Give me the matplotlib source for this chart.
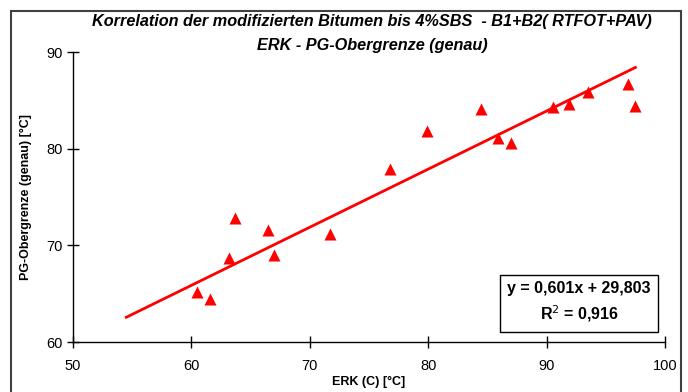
import matplotlib.pyplot as plt
from matplotlib.patches import Rectangle
import numpy as np

plt.rcParams['font.family'] = ['Liberation Sans', 'DejaVu Sans']

# ERK (C) vs. PG-Obergrenze
erk = [60.5, 61.6, 63.2, 63.7, 66.5, 67.0, 71.7, 76.8, 79.9,
       84.5, 85.9, 87.0, 90.5, 91.9, 93.5, 96.9, 97.5]
pg = [65.2, 64.4, 68.7, 72.8, 71.6, 69.0, 71.2, 77.9, 81.8,
      84.1, 81.1, 80.6, 84.3, 84.6, 85.9, 86.7, 84.4]

# trendline as given in the chart
slope = 0.601
intercept = 29.803
r2 = 0.916
trend_x = np.array([54.5, 97.5])

fig = plt.figure(figsize=(6.88, 3.92), dpi=100)
fig.patches.append(Rectangle((11 / 688, -0.1), (681 - 11) / 688, 1.1 - 11 / 392,
                             transform=fig.transFigure, fill=False,
                             edgecolor='#404040', linewidth=1.5))

ax = fig.add_axes([73 / 688, (392 - 342) / 392, (665 - 73) / 688, (342 - 52) / 392])
ax.plot(trend_x, slope * trend_x + intercept, color='#ff0000', linewidth=2)
ax.scatter(erk, pg, marker='^', s=75, color='#ff0000', zorder=3, linewidths=0)

ax.set_xlim(50, 100)
ax.set_ylim(60, 90)
ax.set_xticks([50, 60, 70, 80, 90, 100])
ax.set_yticks([60, 70, 80, 90])
ax.tick_params(direction='inout', length=9, width=1, labelsize=10.5, pad=3)
ax.tick_params(axis='x', pad=8)
for s in ['top', 'right']:
    ax.spines[s].set_visible(False)
for s in ['left', 'bottom']:
    ax.spines[s].set_linewidth(1)

ax.set_xlabel('ERK (C) [°C]', fontsize=9, fontweight='bold', labelpad=2)
ax.set_ylabel('PG-Obergrenze (genau) [°C]', fontsize=9, fontweight='bold', labelpad=10)

fig.text(0.541, 0.946, 'Korrelation der modifizierten Bitumen bis 4%SBS  - B1+B2( RTFOT+PAV)',
         ha='center', va='center', fontsize=11.7, fontweight='bold', style='italic')
fig.text(0.541, 0.884, 'ERK - PG-Obergrenze (genau)',
         ha='center', va='center', fontsize=11.7, fontweight='bold', style='italic')

ax.text(0.855, 0.136, f'y = {slope:.3f}x + {intercept:.3f}\nR$^2$ = {r2:.3f}'.replace('.', ','),
        transform=ax.transAxes, ha='center', va='center', fontsize=11.5,
        fontweight='bold', linespacing=1.5,
        bbox=dict(boxstyle='square,pad=0.45', facecolor='white', edgecolor='black', linewidth=1))

fig.savefig('out.png', dpi=100)
